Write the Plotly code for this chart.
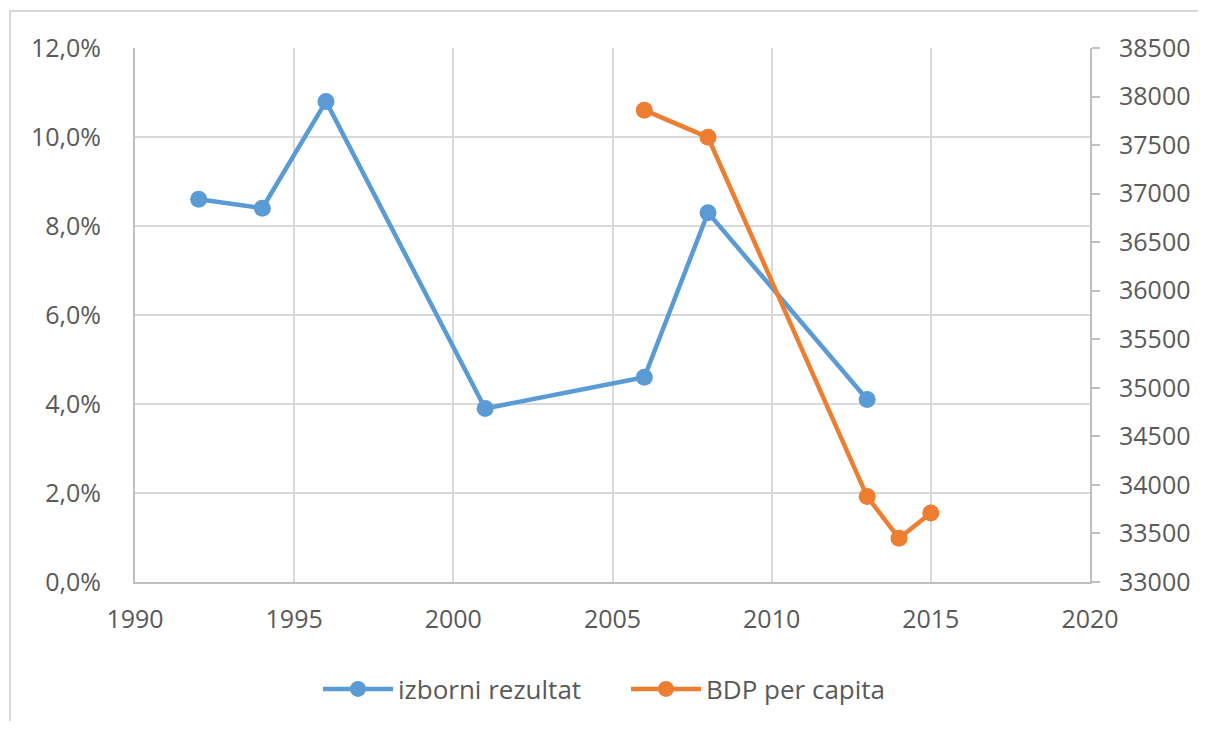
import plotly.graph_objects as go

years_izbori = [1992, 1994, 1996, 2001, 2006, 2008, 2013]
izborni_rezultat = [0.086, 0.084, 0.108, 0.039, 0.046, 0.083, 0.041]

years_bdp = [2006, 2008, 2013, 2014, 2015]
bdp_per_capita = [37860, 37580, 33880, 33450, 33710]

BLUE = "#5B9BD5"
ORANGE = "#ED7D31"
TEXT = "#595959"
GRID = "#d9d9d9"
AXIS = "#bfbfbf"
FONT = "Open Sans"

fig = go.Figure()
fig.add_trace(go.Scatter(
    x=years_izbori, y=izborni_rezultat, name="izborni rezultat",
    mode="lines+markers", line=dict(color=BLUE, width=4.5),
    marker=dict(size=17, color=BLUE), yaxis="y"))
fig.add_trace(go.Scatter(
    x=years_bdp, y=bdp_per_capita, name="BDP per capita",
    mode="lines+markers", line=dict(color=ORANGE, width=4.5),
    marker=dict(size=17, color=ORANGE), yaxis="y2"))

# target pixel positions in the 1206x729 page; the page body has an 8px margin
OFF = 8
L, R, T, B = 135, 1090, 48, 582
W, H = 1206 - 2 * OFF, 729 - 2 * OFF

def px_x(p):
    return (p - L) / (R - L)

def px_y(p):
    return (B - p) / (B - T)

fig.update_layout(
    width=W, height=H,
    margin=dict(l=L - OFF, r=W + OFF - R, t=T - OFF, b=H + OFF - B, autoexpand=False),
    paper_bgcolor="white", plot_bgcolor="white",
    separators=",.",
    font=dict(family=FONT, size=25, color=TEXT),
    showlegend=True,
    legend=dict(orientation="h", x=px_x(318), xanchor="left", y=px_y(689), yanchor="middle",
                font=dict(family=FONT, size=26, color=TEXT), itemwidth=70,
                entrywidth=223, entrywidthmode="pixels",
                traceorder="normal", bgcolor="rgba(0,0,0,0)"),
    xaxis=dict(range=[1990, 2020], dtick=5, tick0=1990, showgrid=True, gridcolor=GRID,
               gridwidth=2, showline=True, linecolor=AXIS, linewidth=2, zeroline=False,
               ticks="", ticklabelstandoff=14, tickfont=dict(size=25, color=TEXT)),
    yaxis=dict(range=[0, 0.12], dtick=0.02, tickformat=".1%", showgrid=True,
               gridcolor=GRID, gridwidth=2, showline=True, linecolor=AXIS, linewidth=2,
               zeroline=False, ticks="", ticklabelstandoff=27, tickfont=dict(size=25, color=TEXT)),
    yaxis2=dict(range=[33000, 38500], dtick=500, tickformat=".0f", overlaying="y",
                side="right", showgrid=False, showline=True, linecolor=AXIS, linewidth=2,
                zeroline=False, ticks="outside", ticklen=8, tickwidth=2, tickcolor=AXIS,
                ticklabelstandoff=14, tickfont=dict(size=25, color=TEXT)),
    shapes=[dict(type="rect", xref="paper", yref="paper",
                 x0=px_x(10), x1=px_x(1230), y0=px_y(11), y1=px_y(760),
                 line=dict(color=GRID, width=2), fillcolor="rgba(0,0,0,0)", layer="below")],
)

fig.write_html("out.html")
